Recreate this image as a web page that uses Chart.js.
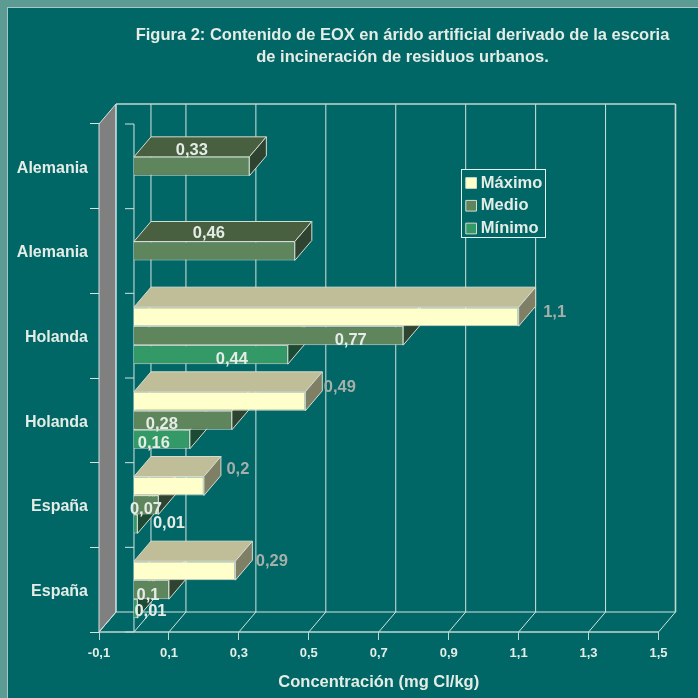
<!DOCTYPE html>
<html><head><meta charset="utf-8">
<style>html,body{margin:0;padding:0;background:#006666}canvas{display:block}</style>
<script src="https://cdn.jsdelivr.net/npm/chart.js@4"></script>
</head><body>
<canvas id="c" width="698" height="698"></canvas>
<script>
const categories = ['Alemania','Alemania','Holanda','Holanda','España','España'];
const maximo = [null,null,1.1,0.49,0.2,0.29];
const medio  = [0.33,0.46,0.77,0.28,0.07,0.1];
const minimo = [null,null,0.44,0.16,0.01,0.01];
const titleLines = ['Figura 2: Contenido de EOX en árido artificial derivado de la escoria','de incineración de residuos urbanos.'];
const xTitle = 'Concentración (mg Cl/kg)';

const FONT = '"Liberation Sans", Arial, sans-serif';
const BG = '#006666', TXT = '#e4ece6', LINE = '#d4e4e0';
const DX = 17, DY = -20;
const faces = [
  {front:'#ffffcc', top:'#bfbe99', side:'#7f7f66', label:'#a6b0aa'},
  {front:'#5f855d', top:'#486040', side:'#2f4430', label:TXT},
  {front:'#339966', top:'#2a7a52', side:'#1d4a35', label:TXT}
];
// label nudges from the bar end, per series and category
const labelNudge = [
  [null,null,[36,-4],[34.5,-14],[34,-17],[36.5,-9]],
  [[-57.5,-15.5],[-86,-18],[-52.5,5],[-70,4],[-12.5,4],[-21,5.5]],
  [null,null,[-56,5],[-36,4],[31.5,-1],[13,2.5]]
];
function poly(ctx, pts, fill, stroke){
  ctx.beginPath();
  pts.forEach((p,i)=> i?ctx.lineTo(p[0],p[1]):ctx.moveTo(p[0],p[1]));
  ctx.closePath();
  if(fill){ctx.fillStyle=fill;ctx.fill();}
  if(stroke){ctx.strokeStyle=stroke;ctx.lineWidth=1;ctx.stroke();}
}
function seg(ctx,x1,y1,x2,y2){ctx.beginPath();ctx.moveTo(x1,y1);ctx.lineTo(x2,y2);ctx.stroke();}
const scene = {
  id:'scene',
  afterLayout(chart){
    const l = chart.legend;
    l.left=463.5; l.right=561; l.top=168.5; l.bottom=300; l.width=97.5; l.height=131.5;
    const t = chart.titleBlock;
    t.left=135; t.right=670; t.width=535;
  },
  beforeDraw(chart){
    const {ctx, scales:{x,y}, chartArea:a, width, height} = chart;
    ctx.save();
    ctx.fillStyle=BG; ctx.fillRect(0,0,width,height);
    ctx.fillStyle='#5c9a94'; ctx.fillRect(0,0,width,7); ctx.fillRect(0,0,7,height);
    ctx.fillStyle='#a9c8c4'; ctx.fillRect(7,7,width-7,1); ctx.fillRect(7,7,1,height-7);
    const L=a.left,R=a.right,T=a.top,B=a.bottom;
    // side wall
    poly(ctx,[[L,T],[L+DX,T+DY],[L+DX,B+DY],[L,B]],'#808080',LINE);
    // back wall and floor
    ctx.strokeStyle=LINE; ctx.lineWidth=1;
    seg(ctx,L+DX,B+DY,R+DX,B+DY);
    x.ticks.forEach(t=>{
      const px=x.getPixelForValue(t.value);
      seg(ctx,px+DX,T+DY,px+DX,B+DY);
      seg(ctx,px,B,px+DX,B+DY);
    });
    const z=x.getPixelForValue(0);
    seg(ctx,z+DX,T+DY,z+DX,B+DY);
    seg(ctx,z,B,z+DX,B+DY);
    // axis line at zero with its ticks
    seg(ctx,z,T,z,B);
    for(let i=0;i<=categories.length;i++){
      const py=T+(B-T)*i/categories.length;
      seg(ctx,z-9,py,z,py);
    }
    ctx.lineWidth=1.6; ctx.strokeStyle='#c2d6d2';
    seg(ctx,L+DX,T+DY,R+DX,T+DY);
    seg(ctx,L,B,R,B);
    seg(ctx,R+DX,T+DY,R+DX,B+DY);
    // legend frame; the legend itself is painted over it
    ctx.fillStyle=BG; ctx.strokeStyle='#e8f0ee'; ctx.lineWidth=1;
    ctx.fillRect(461.5,169.5,84,68); ctx.strokeRect(461.5,169.5,84,68);
    ctx.restore();
  },
  beforeDatasetDraw(chart,args){
    const {ctx}=chart, f=faces[args.index];
    const vals=chart.data.datasets[args.index].data;
    ctx.save();
    args.meta.data.forEach((el,i)=>{
      if(vals[i]==null)return;
      const p=el.getProps(['x','y','base','height']);
      const y0=p.y-p.height/2,y1=p.y+p.height/2;
      poly(ctx,[[p.base,y0],[p.base+DX,y0+DY],[p.x+DX,y0+DY],[p.x,y0]],f.top,'#d6dccf');
      poly(ctx,[[p.x,y0],[p.x+DX,y0+DY],[p.x+DX,y1+DY],[p.x,y1]],f.side,'#d6dccf');
    });
    ctx.restore();
  },
  afterDatasetsDraw(chart){
    const {ctx}=chart;
    ctx.save();
    ctx.font='bold 16.5px '+FONT; ctx.textAlign='center'; ctx.textBaseline='middle';
    [2,1,0].forEach(d=>{
      const ds=chart.data.datasets[d];
      chart.getDatasetMeta(d).data.forEach((el,i)=>{
        const v=ds.data[i], n=labelNudge[d][i];
        if(v==null||!n)return;
        ctx.fillStyle=faces[d].label;
        ctx.fillText(String(v).replace('.',','),el.x+n[0],el.y+n[1]);
      });
    });
    ctx.restore();
  }
};
const mk=(label,data,i)=>({label,data,backgroundColor:faces[i].front,borderColor:'#d6dccf',borderWidth:1,
  categoryPercentage:0.673,barPercentage:1,grouped:true});
new Chart(document.getElementById('c'),{
  type:'bar',
  plugins:[scene],
  data:{labels:categories,datasets:[mk('Máximo',maximo,0),mk('Medio',medio,1),mk('Mínimo',minimo,2)]},
  options:{
    indexAxis:'y',responsive:false,animation:false,devicePixelRatio:1,
    layout:{padding:{left:0,right:39.5,top:0,bottom:0}},
    scales:{
      x:{min:-0.1,max:1.5,
        afterFit(s){s.height=66;},
        border:{display:false},
        grid:{drawOnChartArea:false,drawTicks:true,tickLength:8,color:'#c2d6d2'},
        ticks:{stepSize:0.2,color:TXT,maxRotation:0,autoSkip:false,padding:6,font:{family:FONT,size:13,weight:'bold'},
          callback:v=>v.toFixed(1).replace('.',',')},
        title:{display:true,text:xTitle,color:TXT,font:{family:FONT,size:16.5,weight:'bold'},padding:{top:8,bottom:6}}
      },
      y:{
        afterFit(s){s.width=99;},
        border:{display:false},
        grid:{drawOnChartArea:false,drawTicks:true,tickLength:9,color:LINE},
        ticks:{color:TXT,padding:2,labelOffset:2,font:{family:FONT,size:16,weight:'bold'}}
      }
    },
    plugins:{
      tooltip:{enabled:false},
      title:{display:true,text:titleLines,color:TXT,position:'top',
        font:{family:FONT,size:16.5,weight:'bold',lineHeight:22/16.5},padding:{top:24,bottom:56}},
      legend:{display:true,position:'chartArea',align:'start',
        labels:{color:TXT,usePointStyle:true,pointStyle:'rect',boxWidth:2.8,boxHeight:10.7,padding:6.25,font:{family:FONT,size:16.5,weight:'bold'}}}
    }
  }
});
</script>
</body></html>
